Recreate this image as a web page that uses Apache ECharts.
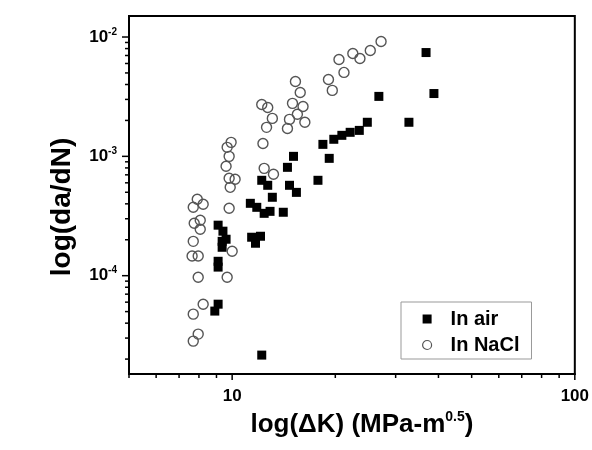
<!DOCTYPE html>
<html><head><meta charset="utf-8">
<script src="https://cdn.jsdelivr.net/npm/echarts@6/dist/echarts.min.js"></script>
<style>html,body{margin:0;padding:0;background:#fff}#c{width:592px;height:450px}</style>
</head><body><div id="c"></div>
<script>
// In air: ΔK (MPa·m^0.5) and da/dN
const airK = [36.8, 38.8, 32.8, 26.8, 24.8, 23.5, 22.1, 20.9, 19.8, 18.4, 19.2, 17.8, 15.1, 14.5, 14.7, 15.4, 13.1, 14.1, 12.7, 12.2, 11.3, 11.8, 12.4, 12.9, 11.4, 12.1, 11.7, 9.1, 9.4, 9.35, 9.6, 9.35, 9.1, 9.1, 9.1, 8.9, 12.2];
const airRate = [7.41e-3, 3.36e-3, 1.93e-3, 3.18e-3, 1.93e-3, 1.65e-3, 1.59e-3, 1.50e-3, 1.39e-3, 1.26e-3, 9.62e-4, 6.30e-4, 1.0e-3, 8.09e-4, 5.72e-4, 4.99e-4, 4.54e-4, 3.40e-4, 5.72e-4, 6.30e-4, 4.04e-4, 3.74e-4, 3.33e-4, 3.46e-4, 2.10e-4, 2.14e-4, 1.87e-4, 2.65e-4, 2.36e-4, 1.94e-4, 2.02e-4, 1.73e-4, 1.32e-4, 1.18e-4, 5.77e-5, 5.05e-5, 2.16e-5];
// In NaCl
const naclK = [27.2, 25.3, 23.6, 22.5, 20.5, 21.2, 19.1, 19.6, 15.3, 15.8, 15.0, 16.1, 15.5, 16.3, 14.7, 14.5, 12.2, 12.7, 13.1, 12.6, 12.3, 12.4, 13.2, 9.93, 9.67, 9.8, 9.6, 9.8, 10.2, 9.87, 7.91, 8.23, 7.70, 8.07, 7.75, 8.07, 7.70, 7.64, 7.96, 7.96, 9.8, 10.0, 9.67, 8.23, 7.70, 7.96, 7.70];
const naclRate = [9.17e-3, 7.71e-3, 6.61e-3, 7.28e-3, 6.48e-3, 5.05e-3, 4.41e-3, 3.57e-3, 4.24e-3, 3.43e-3, 2.78e-3, 2.62e-3, 2.25e-3, 1.93e-3, 2.04e-3, 1.71e-3, 2.72e-3, 2.57e-3, 2.08e-3, 1.75e-3, 1.28e-3, 7.93e-4, 7.07e-4, 1.31e-3, 1.19e-3, 1.0e-3, 8.25e-4, 6.55e-4, 6.42e-4, 5.50e-4, 4.37e-4, 3.97e-4, 3.74e-4, 2.91e-4, 2.75e-4, 2.45e-4, 1.94e-4, 1.46e-4, 1.46e-4, 9.71e-5, 3.67e-4, 1.60e-4, 9.71e-5, 5.77e-5, 4.76e-5, 3.24e-5, 2.83e-5];

const seriesNames = ['In air', 'In NaCl'];
const X_MIN = 5, X_MAX = 100;
const Y_MIN = 1.5e-5, Y_MAX = 0.015;
const xMajorTicks = [10, 100];
const yMajorTicks = [1e-4, 1e-3, 1e-2];
const xMinorTicks = [5, 6, 7, 8, 9, 20, 30, 40, 50, 60, 70, 80, 90];
const yMinorTicks = [2e-5, 3e-5, 4e-5, 5e-5, 6e-5, 7e-5, 8e-5, 9e-5, 2e-4, 3e-4, 4e-4, 5e-4, 6e-4, 7e-4, 8e-4, 9e-4, 2e-3, 3e-3, 4e-3, 5e-3, 6e-3, 7e-3, 8e-3, 9e-3];

const FONT = '"Liberation Sans", Arial, sans-serif';
function isPow10(v) { const l = Math.log10(v); return Math.abs(l - Math.round(l)) < 1e-6; }

function tickSeries(values, isX, len) {
  return {
    type: 'custom', silent: true, clip: false, z: 10,
    data: values.map(v => isX ? [v, Y_MIN] : [X_MIN, v]),
    renderItem: function (params, api) {
      const p = api.coord([api.value(0), api.value(1)]);
      return {
        type: 'line',
        shape: isX ? { x1: p[0], y1: p[1], x2: p[0], y2: p[1] + len } : { x1: p[0], y1: p[1], x2: p[0] - len, y2: p[1] },
        style: { stroke: '#000', lineWidth: 1.5 }
      };
    }
  };
}

const chart = echarts.init(document.getElementById('c'), null, { renderer: 'canvas' });
chart.setOption({
  backgroundColor: '#fff',
  animation: false,
  grid: { left: 129, right: 17, top: 16, bottom: 76, show: true, borderColor: '#000', borderWidth: 2, backgroundColor: 'transparent' },
  legend: {
    orient: 'vertical', left: 401, top: 302,
    backgroundColor: '#fff', borderColor: '#999', borderWidth: 1,
    padding: [7, 12, 4, 21],
    itemWidth: 9, itemHeight: 9, itemGap: 6,
    textStyle: { fontFamily: FONT, fontWeight: 'bold', fontSize: 20, color: '#000', lineHeight: 20, padding: [0, 0, 0, 14] },
    data: [
      { name: seriesNames[0], icon: 'rect', itemStyle: { color: '#000', opacity: 1 } },
      { name: seriesNames[1], icon: 'circle', itemStyle: { color: '#fff', borderColor: '#555', borderWidth: 1.2, opacity: 1 } }
    ]
  },
  xAxis: {
    type: 'log', logBase: 10, min: X_MIN, max: X_MAX,
    name: '{t|log(ΔK) (MPa-m}{s|0.5}{t|)}',
    nameLocation: 'middle', nameGap: 30,
    nameTextStyle: {
      padding: [0, 0, 0, 20],
      rich: {
        t: { fontFamily: FONT, fontWeight: 'bold', fontSize: 26, color: '#000', lineHeight: 30 },
        s: { fontFamily: FONT, fontWeight: 'bold', fontSize: 14, color: '#000', verticalAlign: 'top', lineHeight: 30 }
      }
    },
    axisLine: { show: true, lineStyle: { color: '#000', width: 2 } },
    axisTick: { show: false },
    splitLine: { show: false },
    axisLabel: {
      margin: 14, fontFamily: FONT, fontWeight: 'bold', fontSize: 17, color: '#000',
      formatter: v => isPow10(v) ? String(Math.round(v)) : ''
    }
  },
  yAxis: {
    type: 'log', logBase: 10, min: Y_MIN, max: Y_MAX,
    name: 'log(da/dN)',
    nameLocation: 'middle', nameGap: 53, nameRotate: 90,
    nameTextStyle: { fontFamily: FONT, fontWeight: 'bold', fontSize: 28, color: '#000', padding: [0, 24, 0, 0] },
    axisLine: { show: true, lineStyle: { color: '#000', width: 2 } },
    axisTick: { show: false },
    splitLine: { show: false },
    axisLabel: {
      margin: 12,
      formatter: v => isPow10(v) ? '{b|10}{s|' + Math.round(Math.log10(v)) + '}' : '',
      rich: {
        b: { fontFamily: FONT, fontWeight: 'bold', fontSize: 17, color: '#000', lineHeight: 20 },
        s: { fontFamily: FONT, fontWeight: 'bold', fontSize: 10, color: '#000', verticalAlign: 'top', lineHeight: 20 }
      }
    }
  },
  series: [
    {
      name: seriesNames[0], type: 'scatter', symbol: 'rect', symbolSize: 9,
      itemStyle: { color: '#000', opacity: 1 },
      data: airK.map((k, i) => [k, airRate[i]])
    },
    {
      name: seriesNames[1], type: 'scatter', symbol: 'circle', symbolSize: 10,
      itemStyle: { color: 'rgba(255,255,255,0)', borderColor: '#555', borderWidth: 1.4, opacity: 1 },
      data: naclK.map((k, i) => [k, naclRate[i]])
    },
    tickSeries(xMajorTicks, true, 6),
    tickSeries(xMinorTicks, true, 4),
    tickSeries(yMajorTicks, false, 7),
    tickSeries(yMinorTicks, false, 4)
  ]
});
</script></body></html>
